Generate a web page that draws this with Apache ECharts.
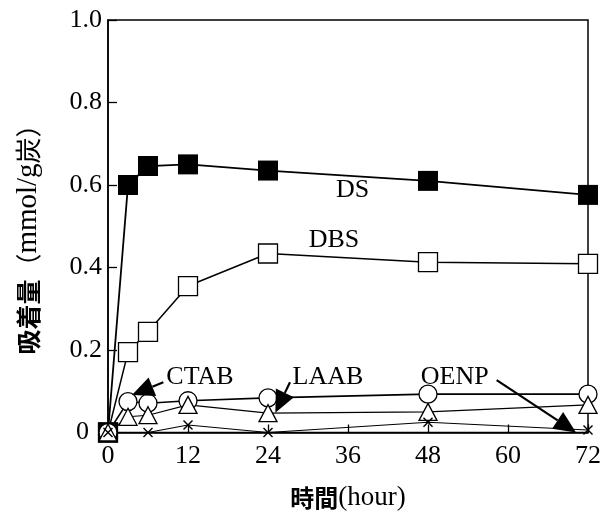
<!DOCTYPE html>
<html><head><meta charset="utf-8">
<script src="https://cdn.jsdelivr.net/npm/echarts@6/dist/echarts.min.js"></script>
<style>html,body{margin:0;padding:0;background:#fff}#c{width:607px;height:512px}</style>
</head><body><div id="c"></div>
<script>
// ---- data ----
const hours = [0, 3, 6, 12, 24, 48, 72];
const dsValues   = [0, 0.600, 0.646, 0.650, 0.635, 0.610, 0.576];
const dbsValues  = [0, 0.195, 0.244, 0.355, 0.434, 0.413, 0.409];
const ctabValues = [0, 0.075, 0.071, 0.077, 0.084, 0.093, 0.093];
const laabValues = [0, 0.038, 0.042, 0.067, 0.047, 0.050, 0.067];
const oenpHours  = [0, 6, 12, 24, 48, 72];
const oenpValues = [0, 0, 0.018, 0, 0.025, 0.006];
const xTicks = [0, 12, 24, 36, 48, 60, 72];
const yTicks = [0, 0.2, 0.4, 0.6, 0.8, 1.0];

// annotations in data coordinates
const textLabels = [
  { text: 'DS',   x: 36.7, y: 0.588 },
  { text: 'DBS',  x: 33.9, y: 0.466 },
  { text: 'CTAB', x: 13.8, y: 0.133 },
  { text: 'LAAB', x: 33.0, y: 0.133 },
  { text: 'OENP', x: 52.0, y: 0.133 }
];
const arrows = [
  { from: [8.3, 0.122],  to: [3.6, 0.091] },
  { from: [27.3, 0.122], to: [25.1, 0.048] },
  { from: [58.3, 0.127], to: [70.2, 0.0] }
];

const SERIF = '"Liberation Serif", "DejaVu Serif", serif';
const CJK = '"Noto Sans CJK JP", "Noto Sans CJK SC", sans-serif';
const pairs = (xs, ys) => xs.map((x, i) => [x, ys[i]]);
const crossPath = 'path://M0,1L1,0L5,4L9,0L10,1L6,5L10,9L9,10L5,6L1,10L0,9L4,5Z';

const chart = echarts.init(document.getElementById('c'), null, { renderer: 'canvas' });

function mkSeries(name, data, symbol, size, fill, lw) {
  return {
    name, type: 'line', data, symbol, symbolSize: size,
    showSymbol: true, animation: false, clip: false,
    lineStyle: { color: '#000', width: lw },
    itemStyle: { color: fill, borderColor: '#000', borderWidth: fill === '#000' ? 0 : 1.3 },
    emphasis: { disabled: true }
  };
}

chart.setOption({
  animation: false,
  backgroundColor: '#fff',
  grid: { left: 108, right: 19, top: 20, bottom: 79.5, show: true, borderColor: '#000', borderWidth: 1.5,
    containLabel: false, outerBoundsMode: 'none' },
  xAxis: {
    type: 'value', min: 0, max: 72, interval: 12,
    name: '{a|時間}{b|(hour)}', nameLocation: 'middle', nameGap: 52,
    nameTextStyle: { rich: {
      a: { fontFamily: CJK, fontSize: 24, fontWeight: 'bold', color: '#000' },
      b: { fontFamily: SERIF, fontSize: 27, color: '#000' } } },
    axisLine: { lineStyle: { color: '#000', width: 1.5 } },
    axisTick: { inside: true, length: 8, lineStyle: { color: '#000', width: 1.3 } },
    splitLine: { show: false },
    axisLabel: { color: '#000', fontFamily: SERIF, fontSize: 26, margin: 11 }
  },
  yAxis: {
    type: 'value', min: 0, max: 1, interval: 0.2,
    axisLine: { show: true, lineStyle: { color: '#000', width: 1.5 } },
    axisTick: { show: true, inside: true, length: 9, lineStyle: { color: '#000', width: 1.3 } },
    splitLine: { show: false },
    axisLabel: { color: '#000', fontFamily: SERIF, fontSize: 26, margin: 6,
      formatter: v => v === 0 ? '0\u2002' : v.toFixed(1) }
  },
  series: [
    mkSeries('DBS', pairs(hours, dbsValues), 'rect', 19, '#fff', 1.5),
    mkSeries('DS', pairs(hours, dsValues), 'rect', 20, '#000', 1.8),
    mkSeries('CTAB', pairs(hours, ctabValues), 'circle', 18, '#fff', 1.6),
    mkSeries('LAAB', pairs(hours, laabValues), 'triangle', [18, 17], '#fff', 1.1),
    (function () {
      const s = mkSeries('OENP', pairs(oenpHours, oenpValues), crossPath, 10, '#000', 1.1);
      s.itemStyle.borderWidth = 0;
      return s;
    })()
  ]
});

const g = [];
textLabels.forEach(t => {
  const p = chart.convertToPixel({ gridIndex: 0 }, [t.x, t.y]);
  g.push({ type: 'text', x: p[0], y: p[1], z: 100,
    style: { text: t.text, fill: '#000', font: '26px ' + SERIF, align: 'center', verticalAlign: 'middle' } });
});
arrows.forEach(a => {
  const s = chart.convertToPixel({ gridIndex: 0 }, a.from);
  const e = chart.convertToPixel({ gridIndex: 0 }, a.to);
  const dx = e[0] - s[0], dy = e[1] - s[1];
  const L = Math.hypot(dx, dy), ux = dx / L, uy = dy / L;
  const hl = 22, hw = 10;
  const bx = e[0] - ux * hl, by = e[1] - uy * hl;
  g.push({ type: 'line', z: 100, shape: { x1: s[0], y1: s[1], x2: bx, y2: by },
    style: { stroke: '#000', lineWidth: 2.2 } });
  g.push({ type: 'polygon', z: 100, shape: { points: [
      [e[0], e[1]], [bx - uy * hw, by + ux * hw], [bx + uy * hw, by - ux * hw]] },
    style: { fill: '#000' } });
});
// y-axis name (vertical)
g.push({ type: 'text', x: 28, y: 233, rotation: Math.PI / 2, z: 100,
  style: { text: '{a|吸着量}{c|（}{b|mmol/g}{c|炭）}', align: 'center', verticalAlign: 'middle',
    rich: {
      a: { fontFamily: CJK, fontSize: 25, fontWeight: 'bold', fill: '#000' },
      b: { fontFamily: SERIF, fontSize: 29, fill: '#000' },
      c: { fontFamily: CJK, fontSize: 26, fill: '#000' } } } });
chart.setOption({ graphic: g });
</script>
</body></html>
